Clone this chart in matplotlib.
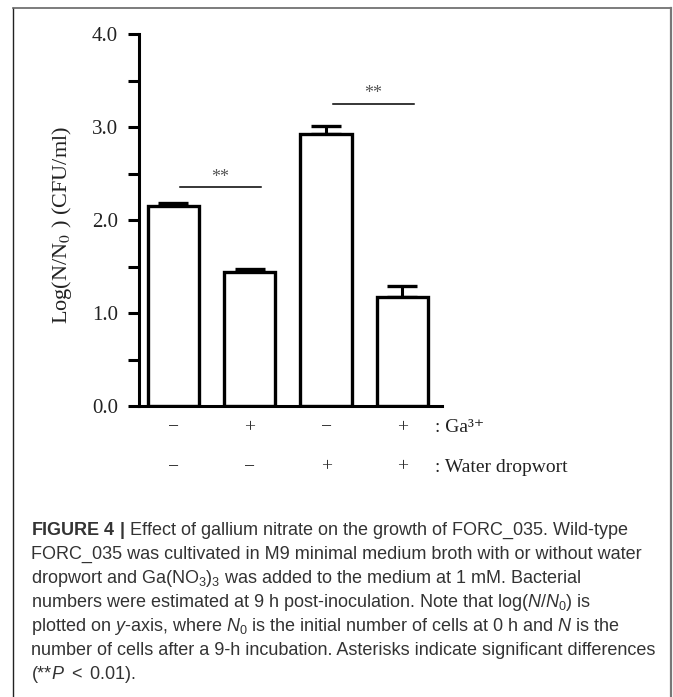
import numpy as np
import matplotlib
matplotlib.use("Agg")
import matplotlib.pyplot as plt
from matplotlib.lines import Line2D

# =========================
# DATOS
# =========================
ga_labels = ["\u2212", "+", "\u2212", "+"]
dropwort_labels = ["\u2212", "\u2212", "+", "+"]
medias = [2.15, 1.44, 2.92, 1.17]
errores = [0.03, 0.03, 0.09, 0.12]
pares_sig = [(0, 1), (2, 3)]
alturas_sig = [2.35, 3.25]

caption = [
    r"$\mathbf{FIGURE\ 4\ |}$ Effect of gallium nitrate on the growth of FORC_035. Wild-type",
    "FORC_035 was cultivated in M9 minimal medium broth with or without water",
    r"dropwort and Ga(NO$_3$)$_3$ was added to the medium at 1 mM. Bacterial",
    r"numbers were estimated at 9 h post-inoculation. Note that log($N$/$N_\mathrm{0}$) is",
    r"plotted on $y$-axis, where $N_\mathrm{0}$ is the initial number of cells at 0 h and $N$ is the",
    "number of cells after a 9-h incubation. Asterisks indicate significant differences",
    r"(**$P$ $<$ 0.01).",
]

plt.rcParams["mathtext.fontset"] = "custom"
plt.rcParams["mathtext.rm"] = "Liberation Sans"
plt.rcParams["mathtext.it"] = "Liberation Sans:italic"
plt.rcParams["mathtext.bf"] = "Liberation Sans:bold"

W, H = 673, 697
fig = plt.figure(figsize=(W / 100, H / 100), dpi=100)

# borde de la figura
borde = [
    ([13 / W, 13 / W], [1.0 - 8 / H, 0.0], "#222222", 1.0),
    ([13 / W, 671 / W], [1.0 - 8 / H, 1.0 - 8 / H], "#666666", 1.2),
    ([671 / W, 671 / W], [1.0 - 8 / H, 0.0], "#777777", 1.6),
]
for xs, ys, c, lw in borde:
    fig.add_artist(Line2D(xs, ys, transform=fig.transFigure, color=c, lw=lw))

ax = fig.add_axes([139 / W, (H - 406) / H, (442 - 139) / W, (406 - 34) / H])

x = np.arange(len(medias))
ax.bar(x, medias, width=0.67, color="white", edgecolor="black", linewidth=2.4, zorder=2)
ax.errorbar(x, medias, yerr=[np.zeros(len(errores)), errores], fmt="none",
            ecolor="black", elinewidth=2.2, capsize=10.5, capthick=2.4, zorder=1)

ax.set_xlim(-0.452, 3.52)
ax.set_ylim(0, 4)
for s in ["top", "right"]:
    ax.spines[s].set_visible(False)
for s in ["left", "bottom"]:
    ax.spines[s].set_linewidth(2.2)
ax.set_xticks([])
ax.set_yticks([0, 1, 2, 3, 4])
ax.set_yticklabels(["0.0", "1.0", "2.0", "3.0", "4.0"])
ax.set_yticks(np.arange(0.5, 4, 1), minor=True)
ax.tick_params(axis="y", which="both", direction="out", length=8, width=2.2, pad=7,
               labelsize=15, labelcolor="#222222")
for t in ax.get_yticklabels():
    t.set_family("Liberation Serif")

# significancia
for (i, j), h in zip(pares_sig, alturas_sig):
    ax.plot([i + 0.085, j + 0.147], [h, h], color="black", lw=1.1, clip_on=False)
    ax.text((i + j) / 2 + 0.116, h + 0.02, "**", ha="center", va="bottom",
            fontsize=13, color="#555555", family="Liberation Serif")

# etiquetas de grupo
trans = ax.get_xaxis_transform()
for xi, g, d in zip(x, ga_labels, dropwort_labels):
    ax.text(xi, -0.059, g, transform=trans, ha="center", va="center",
            fontsize=14, color="#333333", family="Liberation Serif")
    ax.text(xi, -0.164, d, transform=trans, ha="center", va="center",
            fontsize=14, color="#333333", family="Liberation Serif")
ax.text(3.43, -0.059, ": Ga\u00b3\u207a", transform=trans, ha="left", va="center",
        fontsize=14, color="#222222", family=["Liberation Serif", "DejaVu Serif"])
ax.text(3.43, -0.164, ": Water dropwort", transform=trans, ha="left", va="center",
        fontsize=14, color="#222222", family="Liberation Serif")

fig.text(62 / W, 1 - 225 / H, r"Log(N/N$_0$ ) (CFU/ml)", rotation=90, ha="center",
         va="center", fontsize=16, color="#222222", family="Liberation Serif",
         math_fontfamily="stix")

# leyenda de la figura
y0 = 535
for k, linea in enumerate(caption):
    fig.text(31 / W, 1 - (y0 + k * 24) / H, linea, ha="left", va="baseline",
             fontsize=13, color="#333333", family="Liberation Sans")

fig.savefig("out.png", dpi=100, facecolor="white")
